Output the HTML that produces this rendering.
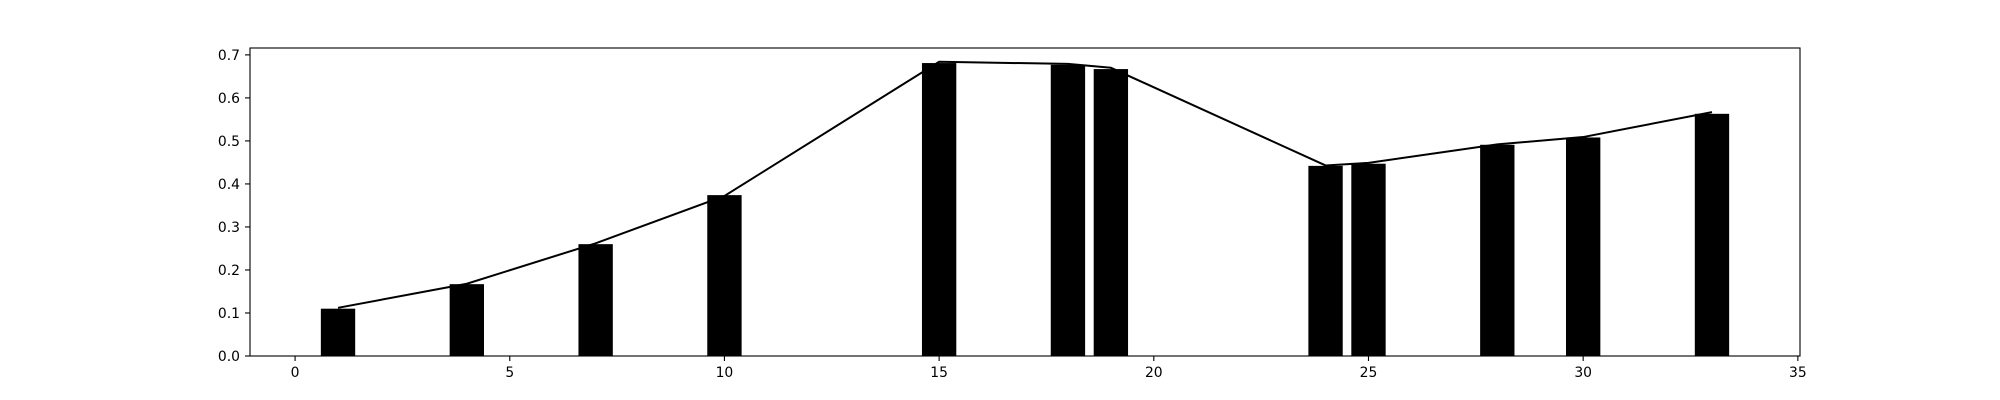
<!DOCTYPE html>
<html><head><meta charset="utf-8"><style>
html,body{margin:0;padding:0;background:#fff;}
svg{display:block;}
text{font-family:"DejaVu Sans","Liberation Sans",sans-serif;font-size:13.9px;fill:#000;}
</style></head><body>
<svg id="chart" width="2000" height="400" xmlns="http://www.w3.org/2000/svg"></svg>
<script>
const barX = [1,4,7,10,15,18,19,24,25,28,30,33];
const barValues = [0.110,0.167,0.260,0.374,0.681,0.677,0.667,0.442,0.447,0.491,0.508,0.563];
const lineX = [1,4,7,10,15,18,19,24,25,28,30,33];
const lineValues = [0.112,0.168,0.262,0.372,0.684,0.679,0.670,0.443,0.449,0.492,0.509,0.567];
const xTicks = [0,5,10,15,20,25,30,35];
const yTicks = [0.0,0.1,0.2,0.3,0.4,0.5,0.6,0.7];
const yTickLabels = ["0.0","0.1","0.2","0.3","0.4","0.5","0.6","0.7"];

const L=250,R=1800,T=48,B=356;
const X0=-1.05,X1=35.05,Y0=0,Y1=0.716;
const sx=v=>L+(v-X0)/(X1-X0)*(R-L);
const sy=v=>B-(v-Y0)/(Y1-Y0)*(B-T);
const NS="http://www.w3.org/2000/svg";
const svg=document.getElementById('chart');
function mk(tag,attrs,parent){const e=document.createElementNS(NS,tag);for(const k in attrs)e.setAttribute(k,attrs[k]);(parent||svg).appendChild(e);return e;}

const bars=mk('g',{});


barX.forEach((x,i)=>{
  const w=sx(x+0.4)-sx(x-0.4);
  const r=mk('rect',{x:sx(x-0.4),y:sy(barValues[i]),width:w,height:sy(0)-sy(barValues[i]),fill:'#000'},bars);
  
  
});
const pts=lineX.map((x,i)=>sx(x)+','+sy(lineValues[i])).join(' ');
const line=mk('polyline',{points:pts,fill:'none',stroke:'#000','stroke-width':2});



const frame=mk('rect',{x:L,y:T,width:R-L,height:B-T,fill:'none',stroke:'#000','stroke-width':1.1});



const xa=mk('g',{});


xTicks.forEach(t=>{
  mk('line',{x1:sx(t),x2:sx(t),y1:B,y2:B+5,stroke:'#000','stroke-width':1.1},xa);
  const tx=mk('text',{x:sx(t),y:B+21,'text-anchor':'middle'},xa);
  tx.textContent=t;
  
  
});
const ya=mk('g',{});


yTicks.forEach((t,i)=>{
  mk('line',{x1:L-5,x2:L,y1:sy(t),y2:sy(t),stroke:'#000','stroke-width':1.1},ya);
  const tx=mk('text',{x:L-10,y:sy(t)+5,'text-anchor':'end'},ya);
  tx.textContent=yTickLabels[i];
  
  
});
</script>
</body></html>
